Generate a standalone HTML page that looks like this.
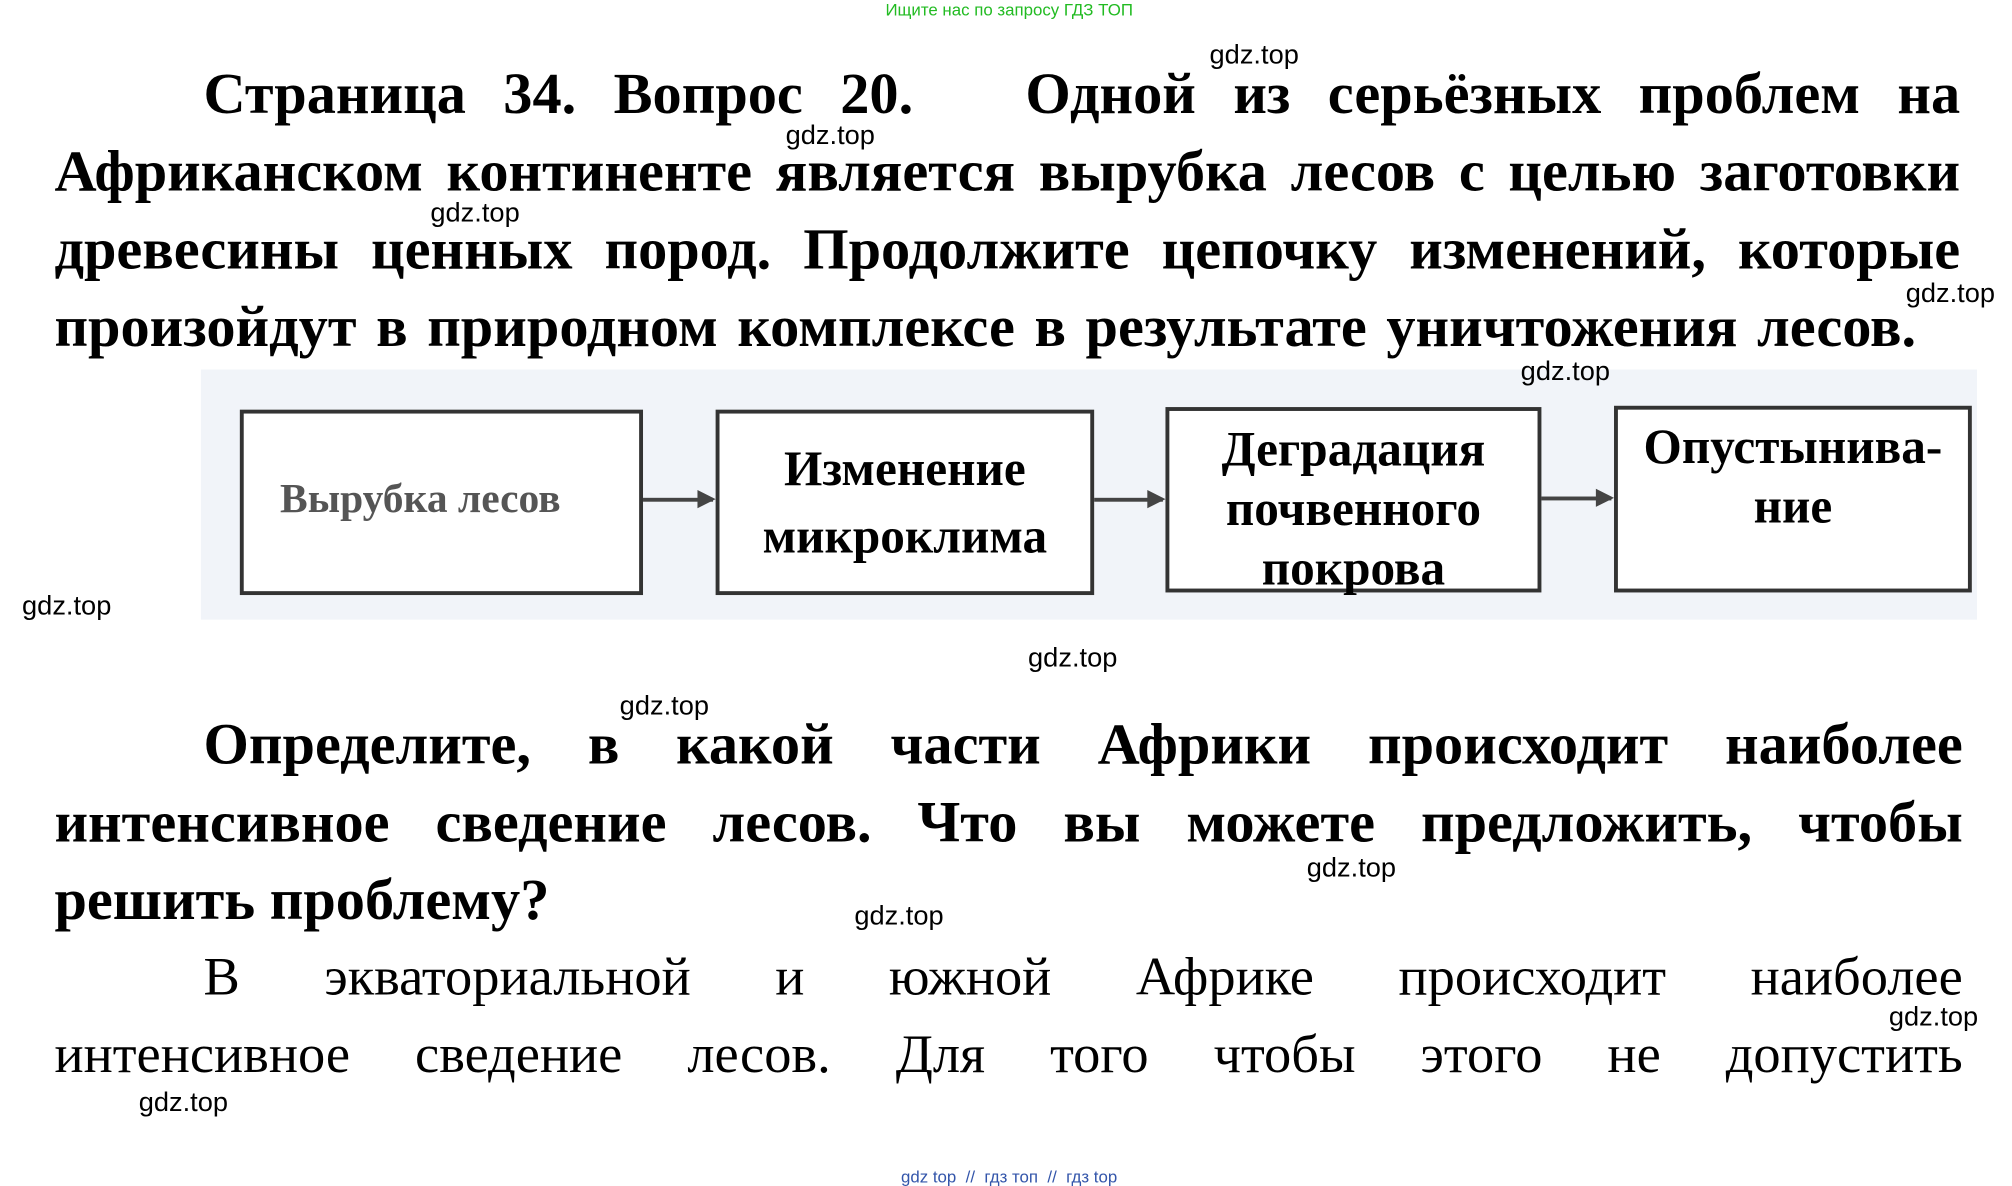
<!DOCTYPE html>
<html><head><meta charset="utf-8"><style>
html,body{margin:0;padding:0;background:#fff;}
body{width:2012px;height:1180px;overflow:hidden;position:relative;}
#s{position:absolute;left:0;top:0;width:1552px;height:910px;transform:scale(1.2964);transform-origin:0 0;}
.a{position:absolute;white-space:nowrap;}
.wm{position:absolute;font-family:"Liberation Sans",sans-serif;font-size:21px;color:#000;}
.ln{position:absolute;left:42px;width:1470px;font-family:"Liberation Serif","Noto Serif CJK SC",serif;font-size:42px;text-align:justify;text-align-last:justify;white-space:nowrap;line-height:48px;}
.b{font-weight:bold;font-size:45px;}
.box{position:absolute;border:3px solid #333;background:#fff;box-sizing:border-box;display:flex;align-items:center;justify-content:center;text-align:center;font-family:"Liberation Serif",serif;font-weight:bold;font-size:38px;line-height:46px;}
.arr{position:absolute;height:3px;background:#444;}
.arr:after{content:"";position:absolute;right:-2px;top:-6px;border-left:14px solid #444;border-top:7px solid transparent;border-bottom:7px solid transparent;}
</style></head><body><div id="s">
<div class="a" style="left:683px;top:0;font-family:'Liberation Sans',sans-serif;font-size:13px;color:#22bb22;">Ищите нас по запросу ГДЗ ТОП</div>

<div class="ln b" style="top:48px;left:157px;width:1355px;">Страница 34. Вопрос 20.&nbsp;&nbsp; Одной из серьёзных проблем на</div>
<div class="ln b" style="top:108px;">Африканском континенте является вырубка лесов с целью заготовки</div>
<div class="ln b" style="top:168px;">древесины ценных пород. Продолжите цепочку изменений, которые</div>
<div class="ln b" style="top:228px;width:1436px;">произойдут в природном комплексе в результате уничтожения лесов.</div>

<div class="a" style="left:155px;top:285px;width:1370px;height:193px;background:#f1f4f9;"></div>
<div class="box" style="left:185px;top:316px;width:311px;height:143px;justify-content:flex-start;padding-left:28px;padding-bottom:8px;font-size:32px;color:#555;">Вырубка лесов</div>
<div class="box" style="left:552px;top:316px;width:292px;height:143px;line-height:52px;">Изменение<br>микроклима</div>
<div class="box" style="left:899px;top:314px;width:290px;height:143px;padding-top:14px;">Деградация<br>почвенного<br>покрова</div>
<div class="box" style="left:1245px;top:313px;width:276px;height:144px;align-items:flex-start;padding-top:6px;">Опустынива-<br>ние</div>
<div class="arr" style="left:496px;top:384px;width:54px;"></div>
<div class="arr" style="left:844px;top:384px;width:53px;"></div>
<div class="arr" style="left:1189px;top:383px;width:54px;"></div>

<div class="ln b" style="top:550px;left:157px;width:1357px;">Определите, в какой части Африки происходит наиболее</div>
<div class="ln b" style="top:610px;width:1472px;">интенсивное сведение лесов. Что вы можете предложить, чтобы</div>
<div class="ln b" style="top:670px;text-align-last:left;">решить проблему?</div>
<div class="ln" style="top:730px;left:157px;width:1357px;">В экваториальной и южной Африке происходит наиболее</div>
<div class="ln" style="top:790px;width:1472px;">интенсивное сведение лесов. Для того чтобы этого не допустить</div>

<div class="wm" style="left:933px;top:31px;">gdz.top</div>
<div class="wm" style="left:606px;top:93px;">gdz.top</div>
<div class="wm" style="left:332px;top:153px;">gdz.top</div>
<div class="wm" style="left:1470px;top:215px;">gdz.top</div>
<div class="wm" style="left:1173px;top:275px;">gdz.top</div>
<div class="wm" style="left:17px;top:456px;">gdz.top</div>
<div class="wm" style="left:793px;top:496px;">gdz.top</div>
<div class="wm" style="left:478px;top:533px;">gdz.top</div>
<div class="wm" style="left:1008px;top:658px;">gdz.top</div>
<div class="wm" style="left:659px;top:695px;">gdz.top</div>
<div class="wm" style="left:1457px;top:773px;">gdz.top</div>
<div class="wm" style="left:107px;top:839px;">gdz.top</div>

<div class="a" style="left:695px;top:900px;font-family:'Liberation Sans',sans-serif;font-size:13px;color:#3355aa;">gdz top &nbsp;//&nbsp; гдз топ &nbsp;//&nbsp; гдз top</div>
</div></body></html>
